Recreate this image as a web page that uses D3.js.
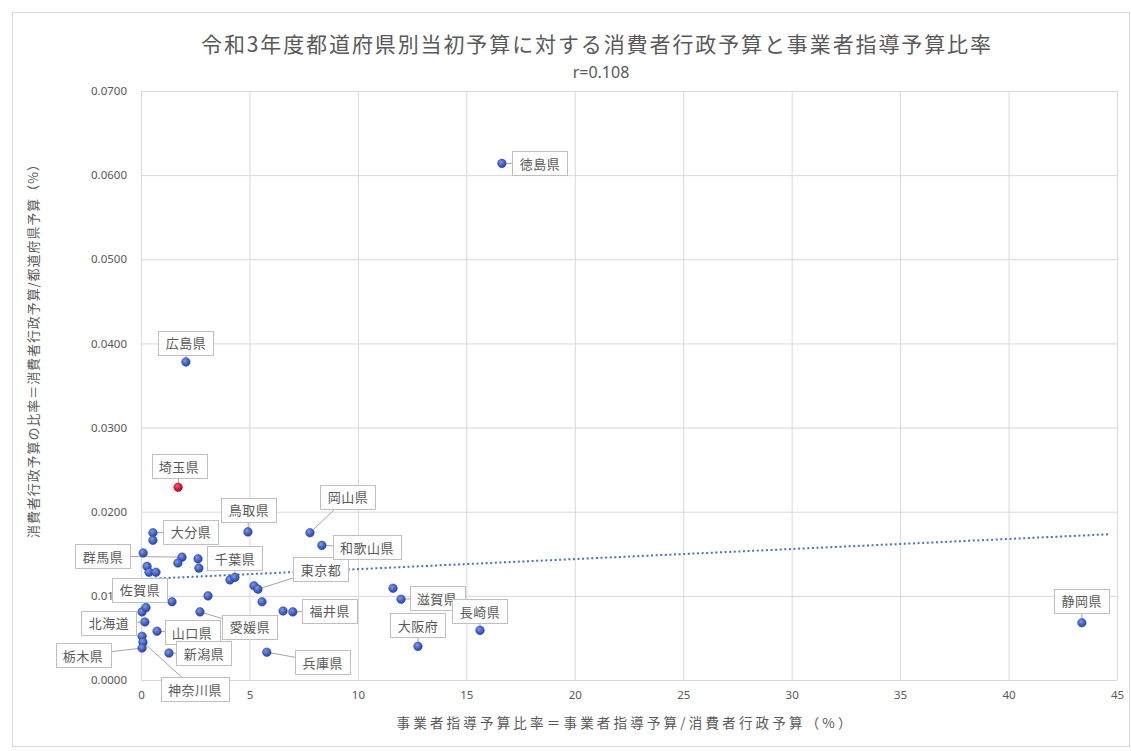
<!DOCTYPE html>
<html lang="ja">
<head>
<meta charset="utf-8">
<script src="https://cdn.jsdelivr.net/npm/d3@7"></script>
<style>
  html, body { margin: 0; padding: 0; background: #ffffff; }
  svg { display: block; }
  text { font-family: "Noto Sans CJK JP", "Noto Sans", sans-serif; fill: #595959; }
  .num { font-family: "Noto Sans", "Open Sans", sans-serif; }
</style>
</head>
<body>
<svg id="chart" width="1131" height="751"></svg>
<script>
// 事業者指導予算比率 (%) — x
const guidanceRatio = [
  16.64, 2.07, 1.71, 4.93, 0.55, 0.55, 0.10, 1.89, 2.63, 1.70,
  0.28, 0.37, 0.69, 2.67, 4.10, 4.33, 5.21, 5.39, 5.58, 3.09,
  1.43, 2.72, 0.05, 0.23, 0.18, 0.74, 0.05, 0.09, 0.05, 1.29,
  5.80, 6.55, 7.00, 8.34, 7.79, 11.62, 11.99, 12.77, 15.63, 43.38
];
// 消費者行政予算の比率 (%) — y
const consumerRatio = [
  0.0614, 0.0378, 0.0229, 0.0176, 0.0175, 0.0166, 0.0151, 0.0146, 0.0144, 0.0139,
  0.0135, 0.0128, 0.0128, 0.0133, 0.0119, 0.0122, 0.0112, 0.0108, 0.0093, 0.0100,
  0.0093, 0.0081, 0.0081, 0.0086, 0.0069, 0.0058, 0.0052, 0.0045, 0.0038, 0.0032,
  0.0033, 0.0082, 0.0081, 0.0160, 0.0175, 0.0109, 0.0096, 0.0040, 0.0059, 0.0068
];
// 都道府県名（吹き出しを付けるもののみ）
const prefNames = [
  "徳島県", "広島県", "埼玉県", "鳥取県", "大分県", null, null, "群馬県", null, null,
  null, null, null, null, null, "千葉県", null, "東京都", null, null,
  null, "愛媛県", null, "佐賀県", "北海道", "山口県", null, "神奈川県", "栃木県", "新潟県",
  "兵庫県", null, "福井県", "和歌山県", "岡山県", null, "滋賀県", "大阪府", "長崎県", "静岡県"
];
const highlighted = "埼玉県";

const xTicks = [0, 5, 10, 15, 20, 25, 30, 35, 40, 45];
const yTicks = [0, 0.01, 0.02, 0.03, 0.04, 0.05, 0.06, 0.07];

const titleText = "令和3年度都道府県別当初予算に対する消費者行政予算と事業者指導予算比率";
const subtitleText = "r=0.108";
const xTitleText = "事業者指導予算比率＝事業者指導予算/消費者行政予算（%）";
const yTitleText = "消費者行政予算の比率＝消費者行政予算/都道府県予算（%）";

// 吹き出しの配置（点からの中心のずれ, px）
const calloutOffset = {
  "徳島県": [38, 0], "広島県": [0, -19], "埼玉県": [1, -21], "鳥取県": [1, -22],
  "大分県": [38, -1], "群馬県": [-79, -1], "千葉県": [0, -19], "東京都": [63, -20],
  "佐賀県": [-6, -18], "北海道": [-36, 1], "山口県": [35, 1], "愛媛県": [50, 15],
  "栃木県": [-59, 7], "新潟県": [35, 0], "神奈川県": [52, 47], "兵庫県": [56, 10],
  "福井県": [37, -1], "和歌山県": [45, 2], "岡山県": [38, -36], "滋賀県": [36, -1],
  "長崎県": [0, -19], "大阪府": [0, -21], "静岡県": [0, -22]
};
const trendEndX = 44.6;

const svg = d3.select("#chart");
const W = 1131, H = 751;
const plot = { left: 141, top: 91, right: 1117, bottom: 680 };

const x = d3.scaleLinear().domain([0, 45]).range([plot.left, plot.right]);
const y = d3.scaleLinear().domain([0, 0.07]).range([plot.bottom, plot.top]);

// chart frame
svg.append("rect")
  .attr("x", 12.5).attr("y", 12.5).attr("width", 1117).attr("height", 734)
  .attr("fill", "#fff").attr("stroke", "#d9d9d9");

// gridlines + tick labels
const xAxis = svg.append("g")
  .attr("transform", `translate(0,${plot.bottom})`)
  .call(d3.axisBottom(x).tickValues(xTicks).tickFormat(d3.format("d"))
    .tickSize(-(plot.bottom - plot.top)).tickPadding(11));
const yAxis = svg.append("g")
  .attr("transform", `translate(${plot.left},0)`)
  .call(d3.axisLeft(y).tickValues(yTicks).tickFormat(d3.format(".4f"))
    .tickSize(-(plot.right - plot.left)).tickPadding(14));
[xAxis, yAxis].forEach(g => {
  g.select(".domain").remove();
  g.selectAll(".tick line").attr("stroke", "#d9d9d9").attr("stroke-width", 1);
  g.selectAll(".tick text").attr("class", "num")
    .style("font-size", "11.5px").style("fill", "#595959");
});

// linear trendline (least squares)
const pts = guidanceRatio.map((v, i) => ({ x: v, y: consumerRatio[i], name: prefNames[i] }));
const mx = d3.mean(pts, d => d.x), my = d3.mean(pts, d => d.y);
const slope = d3.sum(pts, d => (d.x - mx) * (d.y - my)) / d3.sum(pts, d => (d.x - mx) ** 2);
const intercept = my - slope * mx;
svg.append("line")
  .attr("x1", x(0)).attr("y1", y(intercept))
  .attr("x2", x(trendEndX)).attr("y2", y(intercept + slope * trendEndX))
  .attr("stroke", "#4472c4").attr("stroke-width", 2)
  .attr("stroke-dasharray", "2,2.6");

// marker shading
const defs = svg.append("defs");
const gBlue = defs.append("radialGradient").attr("id", "dotBlue")
  .attr("cx", "38%").attr("cy", "35%").attr("r", "70%");
gBlue.append("stop").attr("offset", "0%").attr("stop-color", "#7d9ae6");
gBlue.append("stop").attr("offset", "55%").attr("stop-color", "#3f63cc");
gBlue.append("stop").attr("offset", "100%").attr("stop-color", "#2c40a6");
const gRed = defs.append("radialGradient").attr("id", "dotRed")
  .attr("cx", "38%").attr("cy", "35%").attr("r", "70%");
gRed.append("stop").attr("offset", "0%").attr("stop-color", "#ff5a6e");
gRed.append("stop").attr("offset", "60%").attr("stop-color", "#e2102e");
gRed.append("stop").attr("offset", "100%").attr("stop-color", "#a00a22");

// callout geometry
const labelled = pts.filter(d => d.name);
const boxH = 24;
labelled.forEach(d => {
  const off = calloutOffset[d.name] || [0, -20];
  d.cx = x(d.x) + off[0];
  d.cy = y(d.y) + off[1];
  d.w = d.name.length * 13 + 16;
});

// leader lines
svg.append("g").selectAll("line").data(labelled).join("line")
  .attr("x1", d => d.cx).attr("y1", d => d.cy)
  .attr("x2", d => x(d.x)).attr("y2", d => y(d.y))
  .attr("stroke", "#a6a6a6").attr("stroke-width", 1);

// points
svg.append("g").selectAll("circle").data(pts).join("circle")
  .attr("cx", d => x(d.x)).attr("cy", d => y(d.y)).attr("r", 4.3)
  .attr("fill", d => d.name === highlighted ? "url(#dotRed)" : "url(#dotBlue)")
  .attr("stroke", d => d.name === highlighted ? "#8a0a1c" : "#2a3f9c")
  .attr("stroke-width", 0.5);

// callout boxes
const cg = svg.append("g").selectAll("g").data(labelled).join("g");
cg.append("rect")
  .attr("x", d => Math.round(d.cx - d.w / 2) + 0.5)
  .attr("y", d => Math.round(d.cy - boxH / 2) + 0.5)
  .attr("width", d => d.w).attr("height", boxH)
  .attr("fill", "#ffffff").attr("stroke", "#bfbfbf");
cg.append("text")
  .attr("x", d => d.cx).attr("y", d => d.cy)
  .attr("text-anchor", "middle").attr("dominant-baseline", "central")
  .style("font-size", "13px").style("letter-spacing", "0.5px")
  .text(d => d.name);

// titles
svg.append("text")
  .attr("x", 596).attr("y", 43)
  .attr("text-anchor", "middle").attr("dominant-baseline", "central")
  .attr("textLength", 790).attr("lengthAdjust", "spacing")
  .style("font-size", "21px")
  .text(titleText);
svg.append("text").attr("class", "num")
  .attr("x", 601).attr("y", 72)
  .attr("text-anchor", "middle").attr("dominant-baseline", "central")
  .style("font-size", "16px")
  .text(subtitleText);
svg.append("text")
  .attr("x", 624).attr("y", 722)
  .attr("text-anchor", "middle").attr("dominant-baseline", "central")
  .attr("textLength", 455).attr("lengthAdjust", "spacing")
  .style("font-size", "13.5px")
  .text(xTitleText);
svg.append("text")
  .attr("transform", "translate(32,348) rotate(-90)")
  .attr("text-anchor", "middle").attr("dominant-baseline", "central")
  .attr("textLength", 380).attr("lengthAdjust", "spacing")
  .style("font-size", "13px")
  .text(yTitleText);
</script>
</body>
</html>
